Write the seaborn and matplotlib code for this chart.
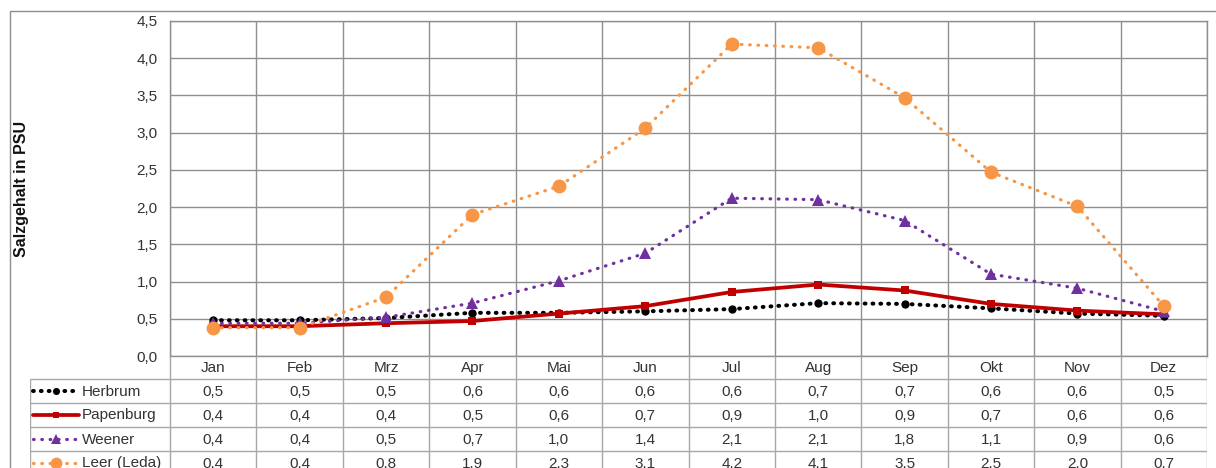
import numpy as np
import pandas as pd
import matplotlib
matplotlib.use("Agg")
import matplotlib.pyplot as plt
from matplotlib.lines import Line2D
from matplotlib.patches import Rectangle
import seaborn as sns

# Monthly mean salinity (PSU) at four stations on the Ems / Leda
months = ["Jan", "Feb", "Mrz", "Apr", "Mai", "Jun", "Jul", "Aug", "Sep", "Okt", "Nov", "Dez"]
herbrum = [0.48, 0.48, 0.51, 0.58, 0.58, 0.60, 0.63, 0.71, 0.70, 0.64, 0.57, 0.54]
papenburg = [0.40, 0.40, 0.44, 0.47, 0.57, 0.67, 0.86, 0.96, 0.88, 0.70, 0.61, 0.56]
weener = [0.44, 0.44, 0.52, 0.71, 1.01, 1.38, 2.12, 2.10, 1.82, 1.10, 0.91, 0.60]
leer = [0.38, 0.38, 0.79, 1.90, 2.28, 3.06, 4.19, 4.14, 3.47, 2.47, 2.01, 0.67]
stations = ["Herbrum", "Papenburg", "Weener", "Leer (Leda)"]
series = [herbrum, papenburg, weener, leer]
y_ticks = [0.0, 0.5, 1.0, 1.5, 2.0, 2.5, 3.0, 3.5, 4.0, 4.5]

styles = {
    "Herbrum": dict(color="#000000", linewidth=2.9, linestyle=(0, (0.2, 1.75)),
                    marker="o", markersize=6),
    "Papenburg": dict(color="#C00000", linewidth=2.7, linestyle="-",
                      marker="s", markersize=5.5),
    "Weener": dict(color="#7030A0", linewidth=2.3, linestyle=(0, (0.2, 2.4)),
                   marker="^", markersize=8),
    "Leer (Leda)": dict(color="#F79646", linewidth=2.3, linestyle=(0, (0.2, 2.4)),
                        marker="o", markersize=10),
}

df = pd.DataFrame({"Monat": months * len(stations),
                   "Station": np.repeat(stations, len(months)),
                   "PSU": np.concatenate(series)})

W, H = 1216, 468
sns.set_theme(style="white")
plt.rcParams["font.family"] = ["Liberation Sans", "DejaVu Sans"]
text_col = "#333333"
grid_col = "#8f8f8f"
table_col = "#a8a8a8"
fs = 11

fig = plt.figure(figsize=(W / 100, H / 100), dpi=100)

# plot area in pixels
left, right, top, bottom = 170, 1207, 21, 356
ax = fig.add_axes([left / W, 1 - bottom / H, (right - left) / W, (bottom - top) / H])

for z, st in enumerate(stations):
    s = styles[st]
    sns.lineplot(data=df[df["Station"] == st], x="Monat", y="PSU", ax=ax,
                 color=s["color"], linewidth=s["linewidth"], linestyle=s["linestyle"],
                 marker=s["marker"], markersize=s["markersize"],
                 markeredgecolor=s["color"], markeredgewidth=0,
                 dash_capstyle="round", zorder=3 + z, sort=False, legend=False)

ax.set_xlim(-0.5, 11.5)
ax.set_ylim(0, 4.5)
ax.set_yticks(y_ticks)
ax.set_yticklabels([f"{v:.1f}".replace(".", ",") for v in y_ticks],
                   fontsize=fs, color=text_col)
ax.set_xticks(np.arange(-0.5, 12, 1), minor=False)
ax.set_xticklabels([])
ax.set_xticks(range(len(months)), minor=True)
ax.set_xticklabels(months, minor=True, fontsize=fs, color=text_col)
ax.tick_params(axis="x", which="both", length=0, pad=3.5)
ax.tick_params(axis="y", length=0, pad=9)
ax.grid(True, which="major", color=grid_col, linewidth=1.0)
for sp in ax.spines.values():
    sp.set_color(grid_col)
    sp.set_linewidth(1.0)
ax.set_xlabel("")
ax.set_ylabel("")

fig.text(22 / W, 1 - 189 / H, "Salzgehalt in PSU", rotation=90, ha="center",
         va="center", fontsize=11.5, fontweight="bold", color="#111111")

# data table under the chart
colw = (right - left) / 12
tab_left = 30
rows = [356, 379, 403, 427, 451, 475]
tax = fig.add_axes([tab_left / W, 1 - rows[-1] / H, (right - tab_left) / W,
                    (rows[-1] - rows[0]) / H])
x0 = -0.5 - (left - tab_left) / colw
tax.set_xlim(x0, 11.5)
tax.set_ylim(rows[-1], rows[0])
tax.axis("off")

for b in np.arange(-0.5, 12, 1):
    tax.vlines(b, rows[0], rows[-1], color=table_col, linewidth=1.0)
tax.vlines(x0, rows[1], rows[-1], color=table_col, linewidth=1.0)
for r in rows[1:-1]:
    tax.hlines(r, x0, 11.5, color=table_col, linewidth=1.0)

for k, (st, vals) in enumerate(zip(stations, series)):
    yc = (rows[k + 1] + rows[k + 2]) / 2
    for i, v in enumerate(vals):
        tax.text(i, yc + 0.5, f"{v:.1f}".replace(".", ","), ha="center", va="center",
                 fontsize=fs, color=text_col)
    s = styles[st]
    xs = [x0 + 3 / colw, x0 + 49 / colw]
    tax.add_line(Line2D(xs, [yc, yc], color=s["color"], linewidth=s["linewidth"],
                        linestyle=s["linestyle"], dash_capstyle="round"))
    tax.add_line(Line2D([x0 + 26 / colw], [yc], color=s["color"], linestyle="none",
                        marker=s["marker"], markersize=s["markersize"] * 0.85,
                        markeredgewidth=0))
    tax.text(x0 + 52 / colw, yc + 0.5, st, ha="left", va="center", fontsize=fs,
             color=text_col)

# chart frame
fig.add_artist(Rectangle((10 / W, 1 - 490 / H), 1230 / W, 479 / H,
                         transform=fig.transFigure, fill=False,
                         edgecolor="#8c8c8c", linewidth=1.0))

fig.savefig("out.png", dpi=100, facecolor="white")
